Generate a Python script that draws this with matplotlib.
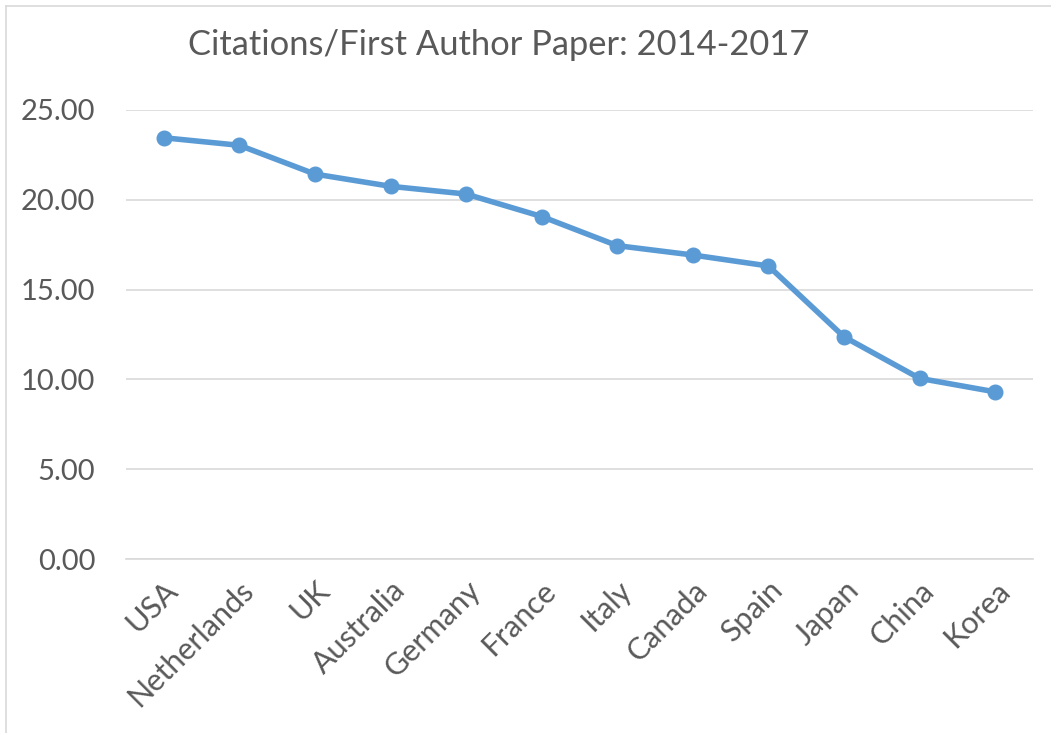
import matplotlib
matplotlib.use("Agg")
import matplotlib.pyplot as plt
from matplotlib.lines import Line2D

countries = ["USA", "Netherlands", "UK", "Australia", "Germany", "France",
             "Italy", "Canada", "Spain", "Japan", "China", "Korea"]
citations = [23.44, 23.02, 21.42, 20.74, 20.31, 19.06,
             17.44, 16.92, 16.31, 12.37, 10.06, 9.31]
y_ticks = [0, 5, 10, 15, 20, 25]
y_tick_labels = ["0.00", "5.00", "10.00", "15.00", "20.00", "25.00"]
title = "Citations/First Author Paper: 2014-2017"

plt.rcParams["font.family"] = ["Lato", "DejaVu Sans"]
text_color = "#595959"
line_color = "#5B9BD5"
grid_color = "#D9D9D9"

fig = plt.figure(figsize=(10.51, 7.33), dpi=100)
ax = fig.add_axes([126 / 1051, (733 - 559.3) / 733,
                   (1033 - 126) / 1051, (559.3 - 109.7) / 733])

x = list(range(len(countries)))
ax.plot(x, citations, color=line_color, linewidth=4.0, marker="o",
        markersize=10.5, solid_capstyle="round", zorder=3)

ax.set_xlim(-0.5, len(countries) - 0.5)
ax.set_ylim(0, 25)
ax.set_yticks(y_ticks)
ax.set_yticklabels(y_tick_labels, fontsize=21)
ax.set_xticks(x)
ax.set_xticklabels(countries, rotation=45, ha="right", va="top",
                   rotation_mode="anchor", fontsize=22)

ax.yaxis.grid(True, color=grid_color, linewidth=1.2)
ax.set_axisbelow(True)
for s in ax.spines.values():
    s.set_visible(False)
ax.spines["bottom"].set_visible(True)
ax.spines["bottom"].set_color(grid_color)
ax.spines["bottom"].set_linewidth(1.2)

ax.tick_params(axis="both", length=0, colors=text_color)
ax.tick_params(axis="y", pad=22)
ax.tick_params(axis="x", pad=12)

fig.text(499 / 1051, 1 - 45 / 733, title, ha="center", va="center",
         fontsize=24.8, color=text_color)

# chart frame along the top and left edges
fig.add_artist(Line2D([6 / 1051, 6 / 1051], [0, 1 - 6 / 733],
                      transform=fig.transFigure, color=grid_color, linewidth=1.2))
fig.add_artist(Line2D([6 / 1051, 1], [1 - 6 / 733, 1 - 6 / 733],
                      transform=fig.transFigure, color=grid_color, linewidth=1.2))

fig.savefig("out.png", dpi=100, facecolor="white")
